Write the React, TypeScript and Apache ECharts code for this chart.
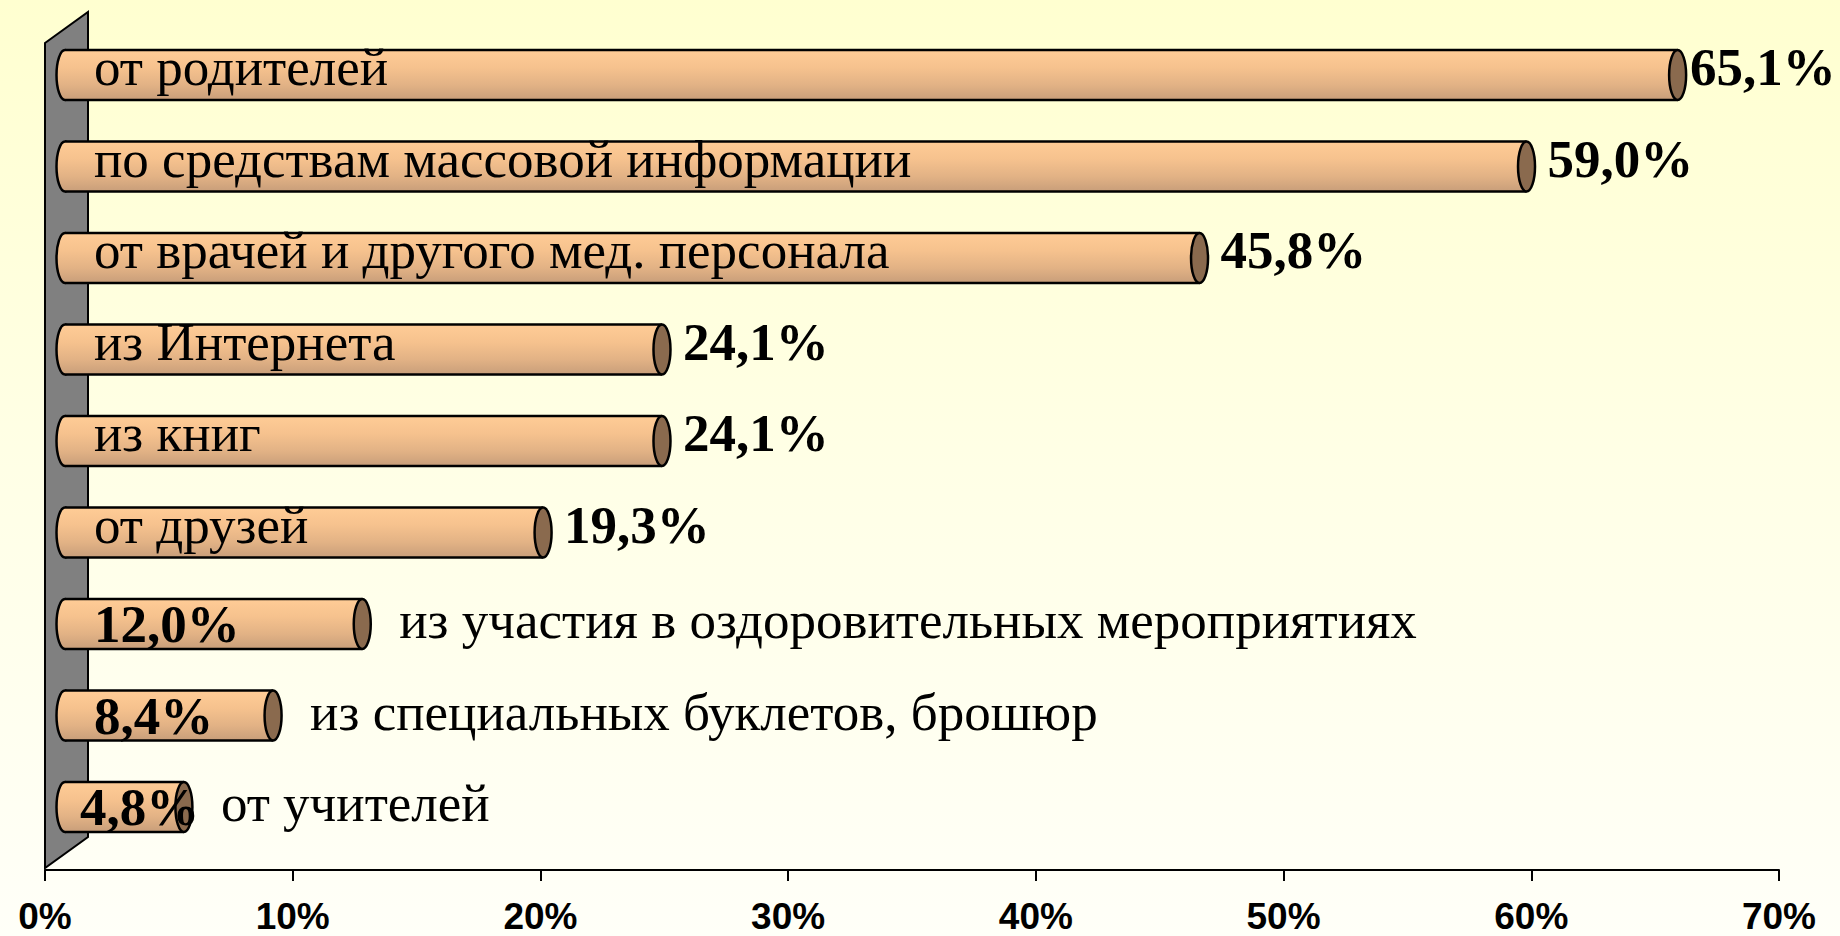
import React, { useEffect, useRef } from "react";
import * as echarts from "echarts";

const categories = [
  "от родителей",
  "по средствам массовой информации",
  "от врачей и другого мед. персонала",
  "из Интернета",
  "из книг",
  "от друзей",
  "из участия в оздоровительных мероприятиях",
  "из специальных буклетов, брошюр",
  "от учителей",
];
const values = [65.1, 59.0, 45.8, 24.1, 24.1, 19.3, 12.0, 8.4, 4.8];
const valueLabels = ["65,1%", "59,0%", "45,8%", "24,1%", "24,1%", "19,3%", "12,0%", "8,4%", "4,8%"];
// bars whose category text sits inside the cylinder (the others show the value inside)
const nameInside = [true, true, true, true, true, true, false, false, false];
const axisMin = 0;
const axisMax = 70;
const axisStep = 10;

const SERIF = "'Liberation Serif', 'Times New Roman', serif";
const SANS = "'Liberation Sans', Arial, sans-serif";

export default function App() {
  const ref = useRef<HTMLDivElement>(null);
  useEffect(() => {
    document.body.style.margin = "0";
    const chart = echarts.init(ref.current!, null, { renderer: "svg" });
    const bodyGrad = () =>
      new echarts.graphic.LinearGradient(0, 0, 0, 1, [
        { offset: 0, color: "#FFCC96" },
        { offset: 0.35, color: "#F6C28E" },
        { offset: 0.7, color: "#E2B285" },
        { offset: 1, color: "#C89E7A" },
      ]);
    const option: any = {
      animation: false,
      backgroundColor: "transparent",
      graphic: [
        {
          type: "polygon",
          z: 1,
          shape: { points: [[45, 43], [88, 12], [88, 837], [45, 868]] },
          style: { fill: "#808080", stroke: "#000", lineWidth: 2 },
        },
      ],
      grid: [
        { left: 45, width: 1734, top: 12, bottom: 66 },
        { left: 65, width: 1734, top: 29.25, height: 823.5 },
      ],
      xAxis: [
        {
          gridIndex: 0,
          type: "value",
          min: axisMin,
          max: axisMax,
          interval: axisStep,
          axisLine: { show: true, lineStyle: { color: "#000", width: 2 } },
          axisTick: { show: true, inside: false, length: 11, lineStyle: { color: "#000", width: 2 } },
          splitLine: { show: false },
          axisLabel: {
            formatter: "{value}%",
            fontFamily: SANS,
            fontWeight: "bold",
            fontSize: 37,
            lineHeight: 30,
            color: "#000",
            margin: 31,
            showMinLabel: true,
            showMaxLabel: true,
          },
        },
        { gridIndex: 1, type: "value", min: axisMin, max: axisMax, show: false },
      ],
      yAxis: [
        { gridIndex: 0, type: "value", show: false },
        { gridIndex: 1, type: "category", inverse: true, data: categories, show: false },
      ],
      series: [
        {
          type: "custom",
          xAxisIndex: 1,
          yAxisIndex: 1,
          clip: false,
          z: 3,
          data: values.map((v, i) => [v, i]),
          encode: { x: 0, y: 1 },
          renderItem: (params: any, api: any) => {
            const v = api.value(0);
            const idx = api.value(1);
            const [xEnd, cy] = api.coord([v, idx]);
            const [x0] = api.coord([0, idx]);
            const h = 50;
            const ry = h / 2;
            const rx = 8.5;
            const children: any[] = [
              {
                type: "ellipse",
                shape: { cx: x0, cy, rx, ry },
                style: { fill: bodyGrad(), stroke: "#000", lineWidth: 2.5 },
              },
              {
                type: "rect",
                shape: { x: x0, y: cy - ry, width: xEnd - x0, height: h },
                style: { fill: bodyGrad() },
              },
              {
                type: "line",
                shape: { x1: x0, y1: cy - ry, x2: xEnd, y2: cy - ry },
                style: { stroke: "#000", lineWidth: 2.5 },
              },
              {
                type: "line",
                shape: { x1: x0, y1: cy + ry, x2: xEnd, y2: cy + ry },
                style: { stroke: "#000", lineWidth: 2.5 },
              },
              {
                type: "ellipse",
                shape: { cx: xEnd, cy, rx, ry },
                style: { fill: "#8A6A4E", stroke: "#000", lineWidth: 2.5 },
              },
            ];
            const W = api.getWidth();
            if (nameInside[idx]) {
              children.push({
                type: "text",
                x: x0 + 29,
                y: cy - 8,
                style: {
                  text: categories[idx],
                  font: `53px ${SERIF}`,
                  fill: "#000",
                  align: "left",
                  verticalAlign: "middle",
                },
              });
              children.push({
                type: "text",
                x: Math.min(xEnd + 21, W - 150),
                y: cy - 8,
                style: {
                  text: valueLabels[idx],
                  font: `bold 53px ${SERIF}`,
                  fill: "#000",
                  align: "left",
                  verticalAlign: "middle",
                },
              });
            } else {
              children.push({
                type: "text",
                x: Math.min(x0 + 29, xEnd - 104),
                y: cy,
                style: {
                  text: valueLabels[idx],
                  font: `bold 53px ${SERIF}`,
                  fill: "#000",
                  align: "left",
                  verticalAlign: "middle",
                },
              });
              children.push({
                type: "text",
                x: xEnd + 37,
                y: cy - 4,
                style: {
                  text: categories[idx],
                  font: `53px ${SERIF}`,
                  fill: "#000",
                  align: "left",
                  verticalAlign: "middle",
                },
              });
            }
            return { type: "group", children };
          },
        },
      ],
    };
    chart.setOption(option);
    return () => chart.dispose();
  }, []);
  return (
    <div
      ref={ref}
      style={{
        width: 1840,
        height: 936,
        background: "linear-gradient(to bottom, #FFFFD0 0%, #FFFFE6 50%, #FFFFF8 100%)",
      }}
    />
  );
}
